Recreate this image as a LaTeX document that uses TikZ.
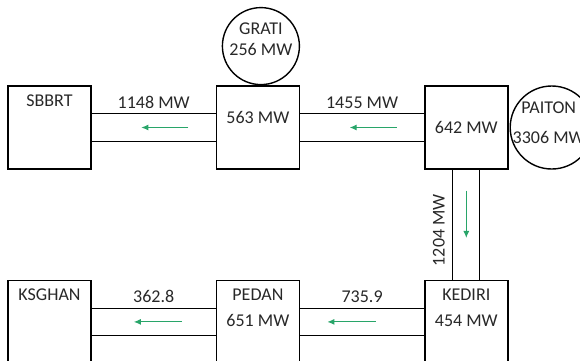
\documentclass[tikz,border=0pt]{standalone}
\usepackage{fontspec}
\setmainfont{Carlito}
\usepackage{tikz}
\usetikzlibrary{arrows.meta, positioning, calc}
\definecolor{inkGray}{RGB}{40, 40, 40}
\definecolor{flowGreen}{RGB}{40, 165, 105}

\begin{document}
\begin{tikzpicture}[
    x=1pt, y=-1pt,
    node distance=110pt and 124pt,
    font=\fontsize{18pt}{21pt}\selectfont,
    text=inkGray,
    bus/.style={rectangle, draw=black, line width=1.4pt, minimum width=83pt, minimum height=83pt, inner sep=0pt},
    gen/.style={circle, draw=black, line width=1.4pt, inner sep=0pt},
    lbl/.style={anchor=north, yshift=-6pt, align=center},
    line/.style={draw=black, line width=1.3pt},
    flow/.style={-{Latex[length=7pt, width=6pt]}, line width=1pt, flowGreen}
]
    \useasboundingbox (0,0) rectangle (580,360);
    \clip (0,0) rectangle (580,360);

    % Nodes
    \node[bus, label={[lbl]north:SBBRT}] (sbbrt) at (49.5,127.5) {};
    \node[bus, right=of sbbrt, label={[lbl, yshift=-17pt]north:563 MW}] (g563) {};
    \node[bus, right=of g563] (p642) {642 MW};
    \node[bus, below=of p642, label={[lbl]north:KEDIRI\\[5pt]454 MW}] (kediri) {};
    \node[bus, left=of kediri, label={[lbl]north:PEDAN\\[5pt]651 MW}] (pedan) {};
    \node[bus, left=of pedan, label={[lbl]north:KSGHAN}] (ksghan) {};

    \node[gen, minimum size=77pt, above=0pt of g563, xshift=3pt,
          label={[align=center, yshift=7pt]center:GRATI\\[0pt]256 MW}] (grati) {};
    \node[gen, minimum size=83pt, right=1pt of p642,
          label={[align=center, xshift=-3pt, yshift=5pt]center:PAITON\\[9pt]3306 MW}] (paiton) {};

    % Links
    \draw[line] ([yshift=14pt]g563.west) -- node[above=1pt] {1148 MW} ([yshift=14pt]sbbrt.east);
    \draw[line] ([yshift=-14pt]g563.west) -- ([yshift=-14pt]sbbrt.east);
    \draw[line] ([yshift=14pt]p642.west) -- node[above=1pt] {1455 MW} ([yshift=14pt]g563.east);
    \draw[line] ([yshift=-14pt]p642.west) -- ([yshift=-14pt]g563.east);

    \draw[line] ([xshift=-13.5pt]p642.south) -- node[pos=0.55, xshift=-4pt, rotate=90, anchor=south] {1204 MW} ([xshift=-13.5pt]kediri.north);
    \draw[line] ([xshift=13.5pt]p642.south) -- ([xshift=13.5pt]kediri.north);

    \draw[line] ([yshift=13.5pt]kediri.west) -- node[above=2pt] {735.9} ([yshift=13.5pt]pedan.east);
    \draw[line] ([yshift=-13.5pt]kediri.west) -- ([yshift=-13.5pt]pedan.east);
    \draw[line] ([yshift=13.5pt]pedan.west) -- node[above=2pt] {362.8} ([yshift=13.5pt]ksghan.east);
    \draw[line] ([yshift=-13.5pt]pedan.west) -- ([yshift=-13.5pt]ksghan.east);

    % Flow arrows
    \draw[flow] ($(sbbrt.east)!0.78!(g563.west)$) -- ($(sbbrt.east)!0.40!(g563.west)$);
    \draw[flow] ($(g563.east)!0.78!(p642.west)$) -- ($(g563.east)!0.40!(p642.west)$);
    \draw[flow] ($(p642.south)!0.19!(kediri.north)$) -- ($(p642.south)!0.62!(kediri.north)$);
    \draw[flow] ($(pedan.east)!0.61!(kediri.west)$) -- ($(pedan.east)!0.22!(kediri.west)$);
    \draw[flow] ($(ksghan.east)!0.73!(pedan.west)$) -- ($(ksghan.east)!0.34!(pedan.west)$);
\end{tikzpicture}
\end{document}
